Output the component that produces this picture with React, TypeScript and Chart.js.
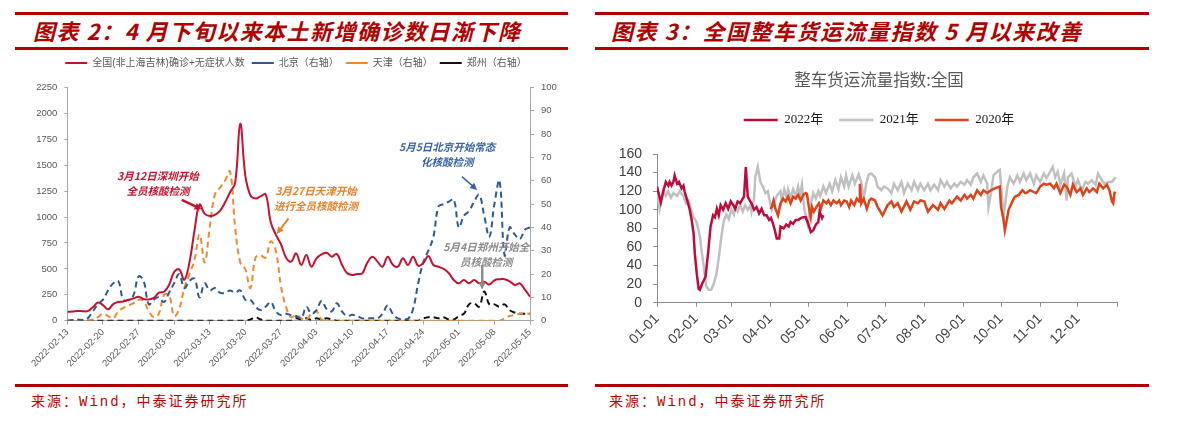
import React, { useEffect, useRef } from 'react';
import { Chart, registerables } from 'chart.js';

Chart.register(...registerables);

// ---------- 图表2: daily new cases, 2022-02-13 .. 2022-05-15 ----------
const caseStart = Date.UTC(2022, 1, 13);
const caseDates: string[] = Array.from({ length: 92 }, (_, i) =>
  new Date(caseStart + i * 86400000).toISOString().slice(0, 10)
);

const caseSeriesLabels = [
  '全国(非上海吉林)确诊+无症状人数',
  '北京（右轴）',
  '天津（右轴）',
  '郑州（右轴）',
];

const nationalCases = [
  85, 88, 94, 92, 93, 130, 175, 150, 110, 160,
  180, 184, 200, 215, 232, 208, 205, 220, 270, 280,
  345, 470, 495, 395, 560, 870, 1120, 1030, 1010, 1020,
  1060, 1140, 1240, 1330, 1900, 1400, 1210, 1180, 1200, 1220,
  950, 830, 740, 610, 570, 650, 538, 634, 521, 602,
  640, 656, 618, 644, 540, 460, 441, 451, 457, 560,
  618, 570, 521, 618, 540, 521, 602, 538, 618, 530,
  554, 624, 538, 520, 500, 460, 393, 361, 393, 361,
  393, 361, 376, 350, 390, 400, 400, 380, 345, 360,
  300, 232,
];

const beijingCases = [
  0, 0.3, 0.5, 0.3, 1, 4, 7, 9, 13, 16,
  17, 9, 9, 11, 19, 17, 7, 9, 10, 8,
  12, 16, 20, 14, 17, 18, 10, 16, 13, 14,
  12, 12, 13, 12, 13, 9, 9, 6, 4.6, 6,
  8, 4, 2.4, 3, 2.4, 2, 1, 6, 3, 4.5,
  8.5, 5, 4, 7.5, 4, 2, 2.5, 2, 1, 1,
  1, 1, 3, 6.5, 3, 1, 0.8, 0.8, 5, 16,
  25, 30, 36, 49, 50, 51, 52, 40, 45, 47,
  51, 54, 45, 36, 50, 60, 28, 40, 37, 35,
  39, 40,
];

const tianjinCases = [
  0, 0, 0, 0, 0, 0.5, 1.5, 3, 2, 1,
  4, 5.5, 6.5, 7.5, 9, 8.5, 4, 1.5, 3, 11,
  11, 2, 5, 14, 20, 26, 37, 25, 40, 54,
  57, 60, 64, 40, 25, 22, 14, 27, 28, 27,
  34, 30, 15, 6, 1.5, 2.5, 1, 0.5, 3, 4,
  0.5, 0, 0, 0, 0, 0, 0, 0, 0, 0,
  0, 0, 0, 0, 0, 0, 0, 0, 0, 0,
  0, 0, 0, 0, 0, 0, 0, 0, 0, 0,
  0, 0, 0, 0, 0, 0, 1, 2, 2.5, 3,
  3, 3,
];

const zhengzhouCases = [
  0, 0, 0, 0, 0, 0, 0, 0, 0, 0,
  0, 0, 0, 0, 0, 0, 0, 0, 0, 0,
  0, 0, 0, 0, 0, 0, 0, 0, 0, 0,
  0, 0, 0, 0, 0, 0, 0.5, 1.5, 0.5, 0,
  0, 0, 0, 0, 0, 1, 0.5, 1, 0.3, 1,
  0.5, 1, 0.5, 0, 0, 0, 0, 0, 0, 0,
  0, 0, 0, 0, 0, 0, 0, 0, 0, 0,
  1, 1.5, 1.5, 1, 1.5, 0.5, 0.5, 2, 3, 7,
  7.5, 6, 12.5, 7, 7, 6, 7, 4.5, 3.5, 3,
  3, 3,
];

// ---------- 图表3: 整车货运流量指数, day of year -> index ----------
const monthTickDays = [0, 31, 59, 90, 120, 151, 181, 212, 243, 273, 304, 334, 365];
const monthTickLabels = ['01-01', '02-01', '03-01', '04-01', '05-01', '06-01', '07-01', '08-01', '09-01', '10-01', '11-01', '12-01', ''];
const freightSeriesLabels = ['2022年', '2021年', '2020年'];

const days2022 = [
  0, 3, 5, 7, 9, 10, 11.5, 13, 14, 16,
  17.5, 19.5, 21, 22, 24, 26, 27.5, 29, 30, 31.5,
  33, 34, 36, 38.5, 40.5, 42.5, 44.5, 46, 47.5, 49,
  50.5, 52.5, 54.5, 56.5, 58.5, 60.5, 62, 64, 66, 68,
  69, 70.5, 72, 74, 75, 77, 79, 81, 83, 85,
  87, 89, 90.5, 92, 93.5, 95, 97, 98, 100.5, 102.5,
  104.5, 106, 108, 110, 112, 114, 116, 118, 120, 122,
  124, 126, 128, 129, 131, 132,
];
const index2022 = [
  125, 108, 120, 130, 126, 130, 126, 130, 137, 128,
  130, 123, 126, 119, 110, 100, 89, 75, 53, 32,
  15, 14, 21, 28, 53, 82, 94, 92, 101, 94,
  105, 100, 107, 101, 109, 105, 101, 109, 107, 112,
  114, 146, 114, 109, 107, 100, 103, 96, 101, 94,
  94, 89, 91, 85, 78, 69, 69, 82, 80, 84,
  82, 87, 85, 89, 89, 91, 92, 92, 85, 76,
  78, 84, 87, 98, 91, 94,
];

const days2021 = [
  0, 2, 5, 7, 9, 11, 13, 16, 18, 19.5,
  21, 23, 25, 27, 29, 31, 32, 34, 35, 37,
  39, 41, 43, 45, 47, 49, 51, 53, 55, 57,
  59, 61, 62, 64, 66, 68, 70, 72, 74, 75,
  77, 78, 80, 82, 84, 86, 88, 89, 91, 95,
  98, 99, 101, 103, 104, 106, 108, 110, 112, 113.5,
  115, 117, 119.5, 122, 124, 126, 128, 129.5, 132, 134,
  137, 139, 141.5, 144, 146, 148.5, 150, 152, 155, 157,
  160, 162, 164, 166, 168, 170, 173, 175, 178, 180,
  183, 186, 188, 191, 194, 196, 199, 202, 204, 207,
  209, 212, 215, 217, 220, 223, 225, 228, 230, 233,
  236, 238, 241, 244, 246, 249, 251, 254, 257, 259,
  262, 263, 265, 267, 270, 272, 274, 275, 276, 278,
  280, 283, 286, 288, 291, 293, 296, 299, 301, 304,
  307, 309, 312, 314, 316, 318, 320, 323, 325, 326,
  329, 332, 334, 337, 340, 342, 345, 348, 350, 353,
  355, 358, 361, 364,
];
const index2021 = [
  118, 101, 120, 115, 120, 113, 118, 115, 120, 117,
  115, 107, 110, 100, 92, 88, 83, 72, 60, 40,
  18, 14, 14, 20, 30, 48, 70, 88, 95, 90,
  100, 95, 103, 98, 105, 98, 105, 100, 105, 98,
  112, 135, 146, 130, 125, 118, 120, 112, 100, 115,
  120, 110, 122, 112, 122, 113, 122, 115, 125, 115,
  127, 100, 85, 105, 118, 112, 120, 115, 125, 118,
  128, 120, 132, 122, 135, 125, 137, 125, 137, 128,
  138, 130, 112, 128, 138, 139, 135, 125, 121, 125,
  123, 118, 128, 121, 130, 118, 128, 121, 130, 121,
  128, 121, 128, 121, 127, 121, 132, 125, 130, 123,
  128, 125, 130, 127, 132, 127, 135, 139, 130, 137,
  128, 103, 118, 137, 141, 143, 110, 93, 103, 125,
  135, 128, 137, 130, 139, 132, 139, 128, 137, 130,
  139, 134, 141, 146, 135, 141, 127, 139, 110, 135,
  139, 125, 132, 121, 130, 128, 132, 127, 139, 132,
  128, 130, 130, 135,
];

const days2020 = [
  90, 91, 92.5, 94, 96, 98, 100, 102, 104, 106,
  108, 110, 112, 114, 116, 118, 119, 120.5, 122, 123,
  124.5, 126.5, 128.5, 130, 132, 134.5, 136, 138, 140, 142.5,
  144.5, 146, 148.5, 150.5, 152.5, 154, 156.5, 158.5, 160.5, 161,
  162, 164, 166.5, 168.5, 170, 173, 175, 179, 183, 186,
  188, 191, 194, 198, 201, 204, 207, 209, 212, 215,
  219, 223, 225, 228, 232, 234, 238, 241, 244, 246,
  249, 251, 254, 257, 259, 262, 265, 268, 272, 273,
  275, 276, 277, 279, 282, 284, 287, 290, 292, 293,
  296, 299, 301, 304, 307, 309, 312, 315, 317, 320,
  323, 325, 328, 330, 333, 336, 338, 341, 343, 346,
  349, 351, 354, 357, 359, 361, 362, 363, 364,
];
const index2020 = [
  101, 103, 110, 101, 94, 107, 112, 109, 114, 107,
  114, 112, 116, 110, 116, 118, 117, 103, 92, 103,
  98, 103, 107, 101, 110, 107, 110, 105, 110, 107,
  110, 105, 110, 109, 103, 110, 105, 112, 109, 128,
  107, 112, 101, 110, 112, 110, 103, 94, 105, 109,
  103, 107, 98, 109, 100, 109, 107, 110, 109, 98,
  105, 100, 107, 101, 110, 107, 114, 110, 116, 112,
  116, 112, 121, 116, 121, 118, 121, 123, 125, 103,
  89, 78, 85, 100, 109, 114, 116, 121, 118, 118,
  121, 119, 118, 125, 128, 127, 128, 123, 128, 118,
  127, 125, 116, 127, 119, 123, 116, 123, 119, 123,
  119, 128, 123, 127, 121, 109, 107, 118, 119,
];

// ---------- styling ----------
const SANS = '"Liberation Sans", "Noto Sans CJK SC", sans-serif';
const SERIF = '"Liberation Serif", "Noto Sans CJK SC", serif';
const CJK = '"Noto Sans CJK SC", sans-serif';
const HEAD_RED = '#B00000';

const caseColors = ['#C41230', '#2E5B8E', '#EE8A2E', '#111111'];
const freightColors = ['#BE0A3C', '#C0C0C0', '#D9441A'];

// Text callouts on 图表2, placed in data space (day index, left-axis value)
const caseNotes = [
  { lines: ['3月12日深圳开始', '全员核酸检测'], color: '#C41230', at: [17.8, 1397], from: [22.5, 1165], to: [26.4, 1075], width: 2.5 },
  { lines: ['3月27日天津开始', '进行全员核酸检测'], color: '#E8822A', at: [48.9, 1252], from: [43.5, 988], to: [41.2, 837], width: 2 },
  { lines: ['5月5日北京开始常态', '化核酸检测'], color: '#3A63A0', at: [74.7, 1677], from: [77.6, 1390], to: [80.6, 1262], width: 1.5 },
  { lines: ['5月4日郑州开始全', '员核酸检测'], color: '#8C8C8C', at: [82.4, 714], from: [81.6, 538], to: [81.6, 300], width: 2.5 },
];

function drawArrow(ctx: CanvasRenderingContext2D, x1: number, y1: number, x2: number, y2: number, color: string, width: number) {
  const ang = Math.atan2(y2 - y1, x2 - x1);
  const hl = 7;
  const hw = 3.5;
  ctx.strokeStyle = color;
  ctx.fillStyle = color;
  ctx.lineWidth = width;
  ctx.lineCap = 'butt';
  ctx.beginPath();
  ctx.moveTo(x1, y1);
  ctx.lineTo(x2 - Math.cos(ang) * hl * 0.7, y2 - Math.sin(ang) * hl * 0.7);
  ctx.stroke();
  ctx.beginPath();
  ctx.moveTo(x2, y2);
  ctx.lineTo(x2 - hl * Math.cos(ang) + hw * Math.sin(ang), y2 - hl * Math.sin(ang) - hw * Math.cos(ang));
  ctx.lineTo(x2 - hl * Math.cos(ang) - hw * Math.sin(ang), y2 - hl * Math.sin(ang) + hw * Math.cos(ang));
  ctx.closePath();
  ctx.fill();
}

const caseNotesPlugin = {
  id: 'caseNotes',
  afterDatasetsDraw(chart: any) {
    const { ctx } = chart;
    const x = chart.scales.x;
    const y = chart.scales.y;
    ctx.save();
    for (const n of caseNotes) {
      ctx.font = 'italic bold 10.5px ' + CJK;
      ctx.fillStyle = n.color;
      ctx.textAlign = 'center';
      ctx.textBaseline = 'middle';
      const cx = x.getPixelForValue(n.at[0]);
      const cy = y.getPixelForValue(n.at[1]);
      n.lines.forEach((t, i) => ctx.fillText(t, cx, cy + i * 15));
      drawArrow(
        ctx,
        x.getPixelForValue(n.from[0]), y.getPixelForValue(n.from[1]),
        x.getPixelForValue(n.to[0]), y.getPixelForValue(n.to[1]),
        n.color, n.width
      );
    }
    ctx.restore();
  },
};

// Adds extra space below the legend block
const legendGap = (extra: number) => ({
  id: 'legendGap',
  beforeLayout(chart: any) {
    const lg = chart.legend;
    if (!lg || lg._gapPatched) return;
    const fit = lg.fit;
    lg.fit = function () {
      fit.call(this);
      this.height += extra;
    };
    lg._gapPatched = true;
  },
});

const caseAxisGray = '#A6A6A6';
const freightAxisGray = '#8C8C8C';
const plainNumber = (v: any) => String(v);

function Rule({ x, y, w }: { x: number; y: number; w: number }) {
  return <div style={{ position: 'absolute', left: x, top: y, width: w, height: 3, background: HEAD_RED }} />;
}

const headStyle: React.CSSProperties = {
  position: 'absolute',
  top: 17,
  height: 26,
  lineHeight: '26px',
  fontFamily: CJK,
  fontWeight: 700,
  fontStyle: 'italic',
  fontSize: 22,
  letterSpacing: 1.5,
  color: HEAD_RED,
  whiteSpace: 'nowrap',
};

const footStyle: React.CSSProperties = {
  position: 'absolute',
  top: 392,
  height: 20,
  lineHeight: '20px',
  fontFamily: '"Liberation Mono", "Noto Sans CJK SC", monospace',
  fontSize: 14,
  letterSpacing: 2,
  color: '#C00000',
  whiteSpace: 'nowrap',
};

export default function App() {
  const caseRef = useRef<HTMLCanvasElement>(null);
  const freightRef = useRef<HTMLCanvasElement>(null);

  useEffect(() => {
    const caseSeries = [nationalCases, beijingCases, tianjinCases, zhengzhouCases];
    const caseChart = new Chart(caseRef.current as HTMLCanvasElement, {
      type: 'line',
      data: {
        datasets: caseSeries.map((vals, k) => ({
          label: caseSeriesLabels[k],
          data: vals.map((v, i) => ({ x: i, y: v })),
          borderColor: caseColors[k],
          backgroundColor: 'transparent',
          borderWidth: 2,
          borderDash: k === 0 ? [] : [6, 4],
          yAxisID: k === 0 ? 'y' : 'y1',
          tension: 0.4,
          pointRadius: 0,
          fill: false,
        })),
      },
      options: {
        animation: false,
        responsive: false,
        maintainAspectRatio: false,
        layout: { padding: { left: 9, right: 0, top: 1, bottom: 0 } },
        plugins: {
          legend: {
            display: true,
            position: 'top',
            labels: {
              usePointStyle: true,
              pointStyle: 'line',
              pointStyleWidth: 22,
              padding: 7,
              color: '#595959',
              font: { size: 10, family: SANS },
            },
          },
          tooltip: { enabled: false },
        },
        scales: {
          x: {
            type: 'linear',
            min: 0,
            max: 91,
            afterFit: (s: any) => { s.height = 59.3; },
            ticks: {
              stepSize: 7,
              autoSkip: false,
              minRotation: 45,
              maxRotation: 45,
              padding: 2,
              color: '#595959',
              font: { size: 9.5, family: SANS },
              callback: (v: any) => caseDates[Math.round(Number(v))] ?? '',
            },
            grid: { drawOnChartArea: false, drawTicks: true, tickLength: 4, color: caseAxisGray },
            border: { display: true, color: caseAxisGray, width: 1 },
          },
          y: {
            position: 'left',
            min: 0,
            max: 2250,
            afterFit: (s: any) => { s.width = 43.4; },
            ticks: { stepSize: 250, autoSkip: false, padding: 7, color: '#595959', font: { size: 9.5, family: SANS }, callback: plainNumber },
            grid: { drawOnChartArea: false, drawTicks: true, tickLength: 3, color: caseAxisGray },
            border: { display: true, color: caseAxisGray, width: 1 },
          },
          y1: {
            position: 'right',
            min: 0,
            max: 100,
            afterFit: (s: any) => { s.width = 38; },
            ticks: { stepSize: 10, autoSkip: false, padding: 7, color: '#595959', font: { size: 9.5, family: SANS }, callback: plainNumber },
            grid: { drawOnChartArea: false, drawTicks: true, tickLength: 4, color: caseAxisGray },
            border: { display: true, color: caseAxisGray, width: 1 },
          },
        },
      } as any,
      plugins: [legendGap(9.5), caseNotesPlugin],
    });

    const freightDays = [days2022, days2021, days2020];
    const freightVals = [index2022, index2021, index2020];
    const drawOrder = [0, 2, 1];
    const freightChart = new Chart(freightRef.current as HTMLCanvasElement, {
      type: 'line',
      data: {
        datasets: freightVals.map((vals, k) => ({
          label: freightSeriesLabels[k],
          data: vals.map((v, i) => ({ x: freightDays[k][i], y: v })),
          borderColor: freightColors[k],
          backgroundColor: 'transparent',
          borderWidth: 2.5,
          tension: 0,
          pointRadius: 0,
          fill: false,
          order: drawOrder[k],
        })),
      },
      options: {
        animation: false,
        responsive: false,
        maintainAspectRatio: false,
        layout: { padding: { left: 0, right: 0, top: 0, bottom: 0 } },
        plugins: {
          title: {
            display: true,
            text: '整车货运流量指数:全国',
            color: '#595959',
            font: { size: 16.5, family: CJK, weight: 'normal' },
            padding: { top: 20.1, bottom: 7.6 },
          },
          legend: {
            display: true,
            position: 'top',
            labels: {
              usePointStyle: true,
              pointStyle: 'line',
              pointStyleWidth: 34,
              padding: 16,
              color: '#1A1A1A',
              font: { size: 13, family: SERIF },
              sort: (a: any, b: any) => a.datasetIndex - b.datasetIndex,
            },
          },
          tooltip: { enabled: false },
        },
        scales: {
          x: {
            type: 'linear',
            min: 0,
            max: 365,
            afterFit: (s: any) => { s.height = 77.3; },
            afterBuildTicks: (s: any) => { s.ticks = monthTickDays.map((v) => ({ value: v })); },
            ticks: {
              autoSkip: false,
              minRotation: 45,
              maxRotation: 45,
              padding: 4,
              color: '#404040',
              font: { size: 14, family: SANS },
              callback: (_v: any, i: number) => monthTickLabels[i] ?? '',
            },
            grid: { drawOnChartArea: false, drawTicks: true, tickLength: 4, color: freightAxisGray },
            border: { display: true, color: freightAxisGray, width: 1 },
          },
          y: {
            position: 'left',
            min: 0,
            max: 160,
            afterFit: (s: any) => { s.width = 62; },
            ticks: { stepSize: 20, autoSkip: false, padding: 11, color: '#404040', font: { size: 14, family: SANS }, callback: plainNumber },
            grid: { drawOnChartArea: false, drawTicks: true, tickLength: 4, color: freightAxisGray },
            border: { display: true, color: freightAxisGray, width: 1 },
          },
          // empty right-hand margin so the title and legend sit centred over the panel
          margin: {
            type: 'linear',
            position: 'right',
            display: true,
            afterFit: (s: any) => { s.width = 46; },
            ticks: { display: false },
            grid: { display: false, drawTicks: false },
            border: { display: false },
          },
        },
      } as any,
      plugins: [legendGap(17.5)],
    });

    return () => {
      caseChart.destroy();
      freightChart.destroy();
    };
  }, []);

  return (
    <div style={{ position: 'absolute', left: 0, top: 0, width: 1180, height: 421, background: '#ffffff', overflow: 'hidden' }}>
      {/* 图表2 */}
      <Rule x={15} y={12} w={553} />
      <div style={{ ...headStyle, left: 33 }}>图表 2：4 月下旬以来本土新增确诊数日渐下降</div>
      <Rule x={15} y={47} w={553} />
      <canvas
        ref={caseRef}
        width={553}
        height={330}
        style={{ position: 'absolute', left: 15, top: 50, width: 553, height: 330 }}
      />
      <Rule x={15} y={384} w={553} />
      <div style={{ ...footStyle, left: 31 }}>来源：Wind，中泰证券研究所</div>

      {/* 图表3 */}
      <Rule x={595} y={12} w={554} />
      <div style={{ ...headStyle, left: 611 }}>图表 3：全国整车货运流量指数 5 月以来改善</div>
      <Rule x={595} y={47} w={554} />
      <canvas
        ref={freightRef}
        width={568}
        height={330}
        style={{ position: 'absolute', left: 595, top: 50, width: 568, height: 330 }}
      />
      <Rule x={595} y={384} w={554} />
      <div style={{ ...footStyle, left: 609 }}>来源：Wind，中泰证券研究所</div>
    </div>
  );
}
